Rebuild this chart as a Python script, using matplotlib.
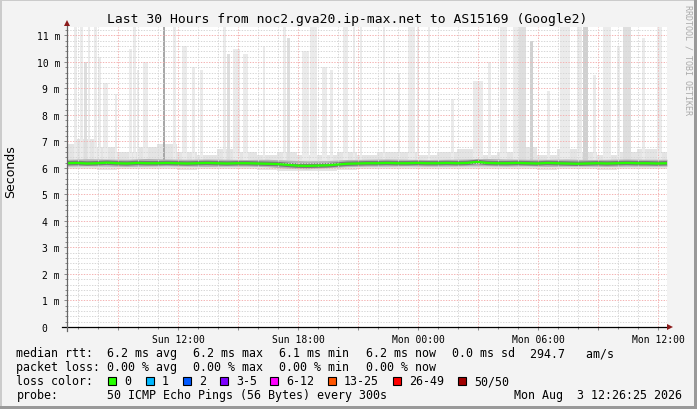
# SmokePing style latency chart, last 30 hours
import datetime
import numpy as np
import matplotlib
matplotlib.use('Agg')
from matplotlib import pyplot as plt
import matplotlib.dates as mdates
from matplotlib.ticker import MultipleLocator, FuncFormatter
from matplotlib.lines import Line2D
from matplotlib.patches import Rectangle

W, H = 697, 410
MONO = 'DejaVu Sans Mono'

title = "Last 30 Hours from noc2.gva20.ip-max.net to AS15169 (Google2)"
end_time = datetime.datetime(2026, 8, 3, 12, 26, 25)
span_hours = 30

# median rtt (ms), one value every 30 min from the start of the window
median = [6.18, 6.19, 6.17, 6.18, 6.20, 6.18, 6.17, 6.19, 6.18, 6.18,
          6.19, 6.18, 6.17, 6.18, 6.19, 6.18, 6.17, 6.18, 6.18, 6.17,
          6.16, 6.15, 6.12, 6.09, 6.08, 6.09, 6.10, 6.13, 6.16, 6.17,
          6.18, 6.18, 6.19, 6.18, 6.18, 6.19, 6.18, 6.18, 6.19, 6.18,
          6.19, 6.23, 6.19, 6.18, 6.18, 6.19, 6.18, 6.17, 6.19, 6.18,
          6.17, 6.16, 6.17, 6.18, 6.17, 6.18, 6.19, 6.18, 6.18, 6.17, 6.18]

# smoke percentiles (ms), hourly
smoke_max = [6.9, 7.1, 6.8, 6.6, 6.8, 6.9, 6.6, 6.5, 6.7, 6.6, 6.5, 6.6,
             6.5, 6.5, 6.6, 6.5, 6.6, 6.6, 6.5, 6.6, 6.7, 6.5, 6.6, 6.8,
             6.5, 6.7, 6.6, 6.5, 6.6, 6.7, 6.6]
smoke_p75 = [6.33, 6.35, 6.34, 6.33, 6.36, 6.34, 6.33, 6.34, 6.33, 6.32, 6.33,
             6.30, 6.27, 6.28, 6.32, 6.33, 6.34, 6.33, 6.32, 6.33, 6.34, 6.36,
             6.34, 6.33, 6.33, 6.34, 6.32, 6.33, 6.34, 6.33, 6.33]
smoke_p25 = [6.07, 6.08, 6.07, 6.06, 6.07, 6.08, 6.07, 6.06, 6.07, 6.07, 6.05,
             5.99, 5.97, 6.01, 6.05, 6.07, 6.07, 6.08, 6.07, 6.07, 6.08, 6.08,
             6.07, 6.08, 6.06, 6.07, 6.07, 6.06, 6.07, 6.07, 6.07]
smoke_min = [5.95, 5.96, 5.94, 5.95, 5.96, 5.95, 5.94, 5.95, 5.96, 5.95, 5.93,
             5.88, 5.87, 5.90, 5.94, 5.95, 5.96, 5.95, 5.95, 5.96, 5.96, 5.95,
             5.95, 5.96, 5.94, 5.95, 5.96, 5.94, 5.95, 5.95, 5.95]

# single high pings: hours after window start, top (ms), width in 5 min steps, pings high
spike_hour = [0.35, 0.65, 0.85, 1.05, 1.35, 1.55, 1.8, 2.4, 3.1, 3.3, 3.5, 3.8,
              4.8, 5.3, 5.75, 6.25, 6.65, 7.8, 8.0, 8.3, 8.8, 9.8, 10.8, 11.0,
              11.75, 12.15, 12.75, 13.15, 13.8, 14.3, 14.65, 15.8, 16.55, 17.05,
              17.5, 18.05, 19.2, 20.3, 21.05, 21.65, 22.3, 22.6, 23.15, 24.0,
              24.65, 25.5, 25.8, 26.3, 26.8, 27.5, 27.8, 28.75, 29.5]
spike_top = [11.4, 11.4, 10.0, 11.4, 11.4, 10.2, 9.2, 8.8, 10.5, 11.4, 9.7, 10.0,
             11.4, 11.4, 10.6, 9.8, 9.7, 11.4, 10.3, 10.5, 10.3, 10.6, 11.4, 10.9,
             10.4, 11.4, 9.8, 9.7, 11.4, 11.4, 11.4, 11.4, 9.6, 11.4,
             11.4, 11.4, 8.6, 9.3, 10.0, 11.4, 11.4, 11.4, 10.8, 8.9,
             11.4, 11.4, 11.4, 9.5, 11.4, 10.6, 11.4, 10.9, 11.4]
spike_steps = [2, 2, 2, 1, 2, 2, 3, 1, 2, 2, 1, 3,
               1, 2, 3, 2, 2, 2, 2, 4, 3, 1, 2, 2,
               4, 4, 3, 2, 3, 1, 1, 1, 1, 4,
               1, 1, 2, 6, 2, 4, 4, 4, 2, 2,
               6, 3, 3, 2, 5, 2, 5, 2, 3]
spike_pings = [1, 1, 2, 1, 1, 1, 1, 1, 1, 1, 1, 1,
               8, 1, 1, 1, 1, 1, 2, 1, 1, 1, 1, 2,
               1, 1, 1, 1, 1, 1, 1, 1, 1, 1,
               1, 1, 1, 1, 1, 1, 1, 2, 3, 1,
               1, 1, 3, 1, 1, 1, 2, 1, 1]

y_ticks = list(range(0, 12))
y_labels = ['0  '] + ['%d m' % v for v in range(1, 12)]

rtt_stats = [('avg', 6.2), ('max', 6.2), ('min', 6.1), ('now', 6.2)]
rtt_sd = 0.0
am_s = 294.7
loss_stats = [('avg', 0.00), ('max', 0.00), ('min', 0.00), ('now', 0.00)]
loss_labels = ['0', '1', '2', '3-5', '6-12', '13-25', '26-49', '50/50']
loss_colors = ['#26ff00', '#00b8ff', '#0059ff', '#7e00ff', '#ff00ff',
               '#ff5500', '#ff0000', '#a10000']
probe_text = "50 ICMP Echo Pings (56 Bytes) every 300s"

start_time = end_time - datetime.timedelta(hours=span_hours)
t0 = mdates.date2num(start_time)
step_days = 5.0 / 60 / 24

def hx(hours):
    return t0 + np.asarray(hours, dtype=float) / 24.0

fig = plt.figure(figsize=(W / 100, H / 100), dpi=100, facecolor='#f3f3f3')
ax = fig.add_axes([67 / W, 82 / H, 600 / W, 300 / H])
ax.set_facecolor('white')

# smoke
half_x = hx(np.arange(len(median)) * 0.5)
hour_x = hx(np.arange(len(smoke_max)))
ax.fill_between(hour_x, smoke_min, smoke_max, step='mid', color='#e4e4e4', lw=0, zorder=1)
shade = {1: '#ebebeb', 2: '#dedede', 3: '#d0d0d0', 8: '#a8a8a8'}
for h, top, n, p in zip(spike_hour, spike_top, spike_steps, spike_pings):
    ax.bar(hx(h), top - 6.3, bottom=6.3, width=n * step_days, align='edge',
           color=shade[p], lw=0, zorder=1.1)
ax.fill_between(hour_x, smoke_p25, smoke_p75, color='#b4b4b4', lw=0, zorder=1.2)
ax.plot(half_x, median, color='#7a7a7a', lw=3.2, zorder=1.3)
ax.plot(half_x, median, color=loss_colors[0], lw=1.6, zorder=3)

ax.set_xlim(t0, hx(span_hours))
ax.set_ylim(0, 11.32)

# grid
ax.xaxis.set_major_locator(mdates.HourLocator(byhour=range(0, 24, 3)))
ax.xaxis.set_minor_locator(mdates.HourLocator())
def fmt_time(x, pos):
    d = mdates.num2date(x)
    return d.strftime('%a %H:%M') if d.hour % 6 == 0 else ''
ax.xaxis.set_major_formatter(FuncFormatter(fmt_time))
ax.set_yticks(y_ticks)
ax.set_yticklabels(y_labels)
ax.yaxis.set_minor_locator(MultipleLocator(0.2))
ax.set_axisbelow(False)
ax.grid(which='minor', color='#d6d6d6', linestyle=(0, (1.4, 1.4)), lw=0.7)
ax.grid(which='major', color='#f4b2b2', linestyle=(0, (1.4, 1.4)), lw=0.7)
ax.tick_params(which='both', direction='out', color='#888888', width=0.7)
ax.tick_params(which='major', length=2.5)
ax.tick_params(which='minor', length=1.5)
ax.tick_params(axis='y', pad=2.5)
ax.tick_params(axis='x', pad=2.5)
for lab in ax.get_xticklabels() + ax.get_yticklabels():
    lab.set_fontfamily(MONO)
    lab.set_fontsize(7)
for s in ax.spines.values():
    s.set_visible(False)

def px(x, y):
    return x / W, 1 - y / H

# axes lines and arrows
fig.add_artist(Line2D([62 / W, 668 / W], [1 - 328 / H] * 2, color='black', lw=0.9))
fig.add_artist(Line2D([67 / W] * 2, [1 - 332 / H, 1 - 26 / H], color='#666666', lw=0.9))
fig.add_artist(Line2D([670 / W], [1 - 328 / H], marker='>', ms=4, color='#8b1a1a', mew=0))
fig.add_artist(Line2D([67 / W], [1 - 24 / H], marker='^', ms=4, color='#8b1a1a', mew=0))

# frame
fig.add_artist(Rectangle((0, 1 - 2 / H), 1, 2 / H, color='#cbcbcb', lw=0))
fig.add_artist(Rectangle((0, 0), 2 / W, 1, color='#cbcbcb', lw=0))
fig.add_artist(Rectangle((0, 0), 1, 3 / H, color='#999999', lw=0))
fig.add_artist(Rectangle((1 - 3 / W, 0), 3 / W, 1, color='#999999', lw=0))

fig.text(*px(347, 19), title, family=MONO, fontsize=9.4, ha='center', va='center')
fig.text(*px(11, 172), 'Seconds', fontsize=9, rotation=90, ha='center', va='center')
fig.text(*px(688, 60), 'RRDTOOL / TOBI OETIKER', family=MONO, fontsize=6,
         rotation=270, ha='center', va='center', color='#aaaaaa')

# legend
row_y = [354, 368, 382, 396]
col_x = [107, 193, 279, 366]
fs = 8.4
fig.text(*px(16.5, row_y[0]), 'median rtt:', family=MONO, fontsize=fs, va='center')
for x, (name, v) in zip(col_x, rtt_stats):
    fig.text(*px(x, row_y[0]), '%.1f ms %s' % (v, name), family=MONO, fontsize=fs, va='center')
fig.text(*px(452, row_y[0]), '%.1f ms sd' % rtt_sd, family=MONO, fontsize=fs, va='center')
fig.text(*px(530, row_y[0]), '%.1f   am/s' % am_s, family=MONO, fontsize=fs, va='center')

fig.text(*px(16.5, row_y[1]), 'packet loss:', family=MONO, fontsize=fs, va='center')
for x, (name, v) in zip(col_x, loss_stats):
    fig.text(*px(x, row_y[1]), '%.2f %% %s' % (v, name), family=MONO, fontsize=fs, va='center')

fig.text(*px(16.5, row_y[2]), 'loss color:', family=MONO, fontsize=fs, va='center')
box_x = [108, 146, 183, 220, 270, 328, 393, 458]
for x, lab, c in zip(box_x, loss_labels, loss_colors):
    fig.add_artist(Rectangle(((x) / W, 1 - (row_y[2] + 4) / H), 8 / W, 8 / H,
                             facecolor=c, edgecolor='black', lw=0.8))
    fig.text(*px(x + 16, row_y[2]), lab, family=MONO, fontsize=fs, va='center')

fig.text(*px(16.5, row_y[3]), 'probe:', family=MONO, fontsize=fs, va='center')
fig.text(*px(107, row_y[3]), probe_text, family=MONO, fontsize=fs, va='center')
fig.text(*px(682, row_y[3]), end_time.strftime('%a %b  %-d %H:%M:%S %Y'),
         family=MONO, fontsize=fs, va='center', ha='right')

plt.savefig('out.png', dpi=100, facecolor=fig.get_facecolor())
